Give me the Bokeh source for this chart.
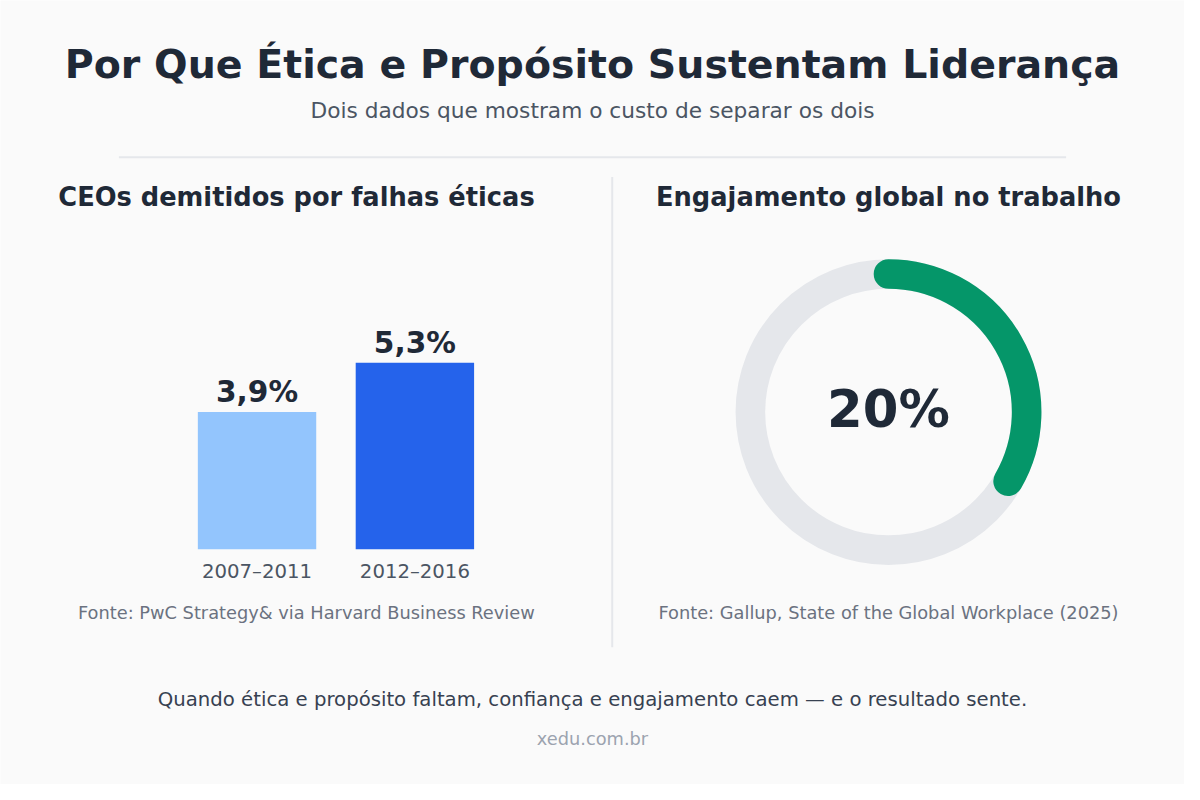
import math
from bokeh.plotting import figure
from bokeh.models import Range1d
from bokeh.core.properties import value
from bokeh.embed import file_html
from bokeh.resources import INLINE

# ---- data ----
title = "Por Que Ética e Propósito Sustentam Liderança"
subtitle = "Dois dados que mostram o custo de separar os dois"
left_heading = "CEOs demitidos por falhas éticas"
right_heading = "Engajamento global no trabalho"
periods = ["2007–2011", "2012–2016"]
ceo_dismissed_pct = [3.9, 5.3]
engagement_pct = [20]
gauge_full_scale = [60]  # value the full ring represents, as drawn
left_source = "Fonte: PwC Strategy& via Harvard Business Review"
right_source = "Fonte: Gallup, State of the Global Workplace (2025)"
footnote = "Quando ética e propósito faltam, confiança e engajamento caem — e o resultado sente."
site = "xedu.com.br"

FONT = value("DejaVu Sans")
DARK = "#1f2937"

# design space is 1200 x 800, drawn into a 1184 x 784 figure
DW, DH = 1200, 800
W, H = 1184, 784
S = W / DW

def fs(px):
    return f"{px * S:.1f}px"

p = figure(width=W, height=H, output_backend="svg", toolbar_location=None,
           x_range=Range1d(0, DW), y_range=Range1d(DH, 0),
           min_border=0, background_fill_color="#fafafa",
           border_fill_color="#fafafa", outline_line_color=None)
p.axis.visible = False
p.grid.visible = False

# bar scales: value 0 at design y 560, ~35.9 units per percentage point
PX = 35.9
BASE_Y = 560
p.extra_y_ranges = {"bar": Range1d(start=-(DH - BASE_Y) / PX, end=BASE_Y / PX)}
# bar index scale: index 0 centred at design x 260, spacing 160
p.extra_x_ranges = {"barx": Range1d(start=-260 / 160, end=(DW - 260) / 160)}

def txt(x, y, s, size, color, bold=False):
    p.text(x=[x], y=[y], text=[s], text_font=FONT, text_font_size=fs(size),
           text_color=color, text_font_style="bold" if bold else "normal",
           text_align="center", text_baseline="middle")

# header
txt(600, 65, title, 40, DARK, bold=True)
txt(600, 112, subtitle, 22, "#4b5563")
p.segment(x0=[120], y0=[160], x1=[1080], y1=[160], line_color="#e5e7eb", line_width=2)
p.segment(x0=[620], y0=[180], x1=[620], y1=[660], line_color="#e5e7eb", line_width=2)

# left panel
txt(300, 201, left_heading, 26, DARK, bold=True)
idx = list(range(len(periods)))
p.vbar(x=idx, top=ceo_dismissed_pct, bottom=0, width=0.75,
       fill_color=["#93c5fd", "#2563eb"], line_color=None,
       x_range_name="barx", y_range_name="bar")
p.text(x=idx, y=ceo_dismissed_pct,
       text=[f"{v:.1f}".replace(".", ",") + "%" for v in ceo_dismissed_pct],
       text_font=FONT, text_font_size=fs(30), text_font_style="bold",
       text_color=DARK, text_align="center", text_baseline="middle",
       y_offset=-20 * S, x_range_name="barx", y_range_name="bar")
p.text(x=idx, y=[0] * len(idx), text=periods, text_font=FONT,
       text_font_size=fs(20), text_color="#4b5563", text_align="center",
       text_baseline="middle", y_offset=22 * S,
       x_range_name="barx", y_range_name="bar")
txt(310, 624, left_source, 18, "#6b7280")

# right panel
txt(900, 201, right_heading, 26, DARK, bold=True)
p.circle(x=[900], y=[420], radius=140, fill_color=None,
         line_color="#e5e7eb", line_width=30 * S)
sweep = 2 * math.pi * engagement_pct[0] / gauge_full_scale[0]
p.arc(x=[900], y=[420], radius=140, start_angle=math.pi / 2,
      end_angle=math.pi / 2 - sweep, direction="clock",
      line_color="#059669", line_width=30 * S, line_cap="round")
txt(900, 417, f"{engagement_pct[0]}%", 52, DARK, bold=True)
txt(900, 624, right_source, 18, "#6b7280")

# footer
txt(600, 713, footnote, 20, "#374151")
txt(600, 753, site, 18, "#9ca3af")

html = file_html(p, INLINE)
open("out.html", "w").write(html)
